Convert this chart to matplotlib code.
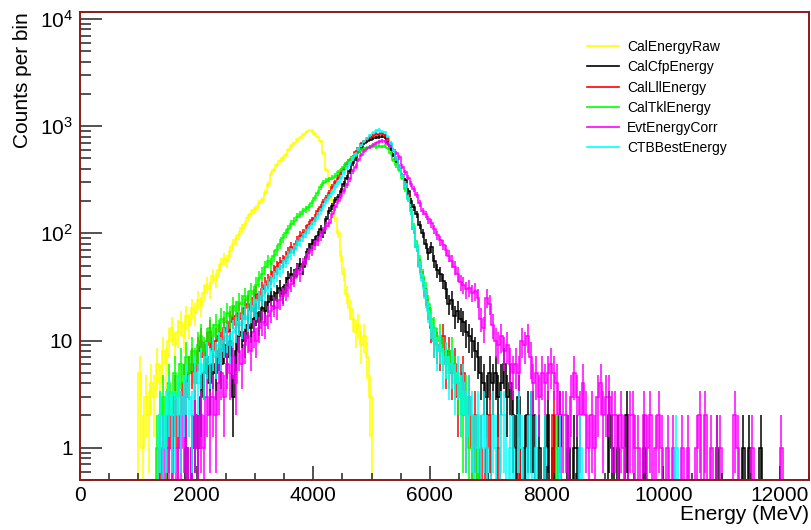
import numpy as np
import matplotlib
matplotlib.use("Agg")
import matplotlib.pyplot as plt
from matplotlib.lines import Line2D
from matplotlib.ticker import FixedLocator, LogLocator, FuncFormatter, NullFormatter

plt.rcParams['font.family'] = ['Liberation Sans', 'DejaVu Sans']
plt.rcParams['mathtext.default'] = 'regular'

# 50 MeV bins from 0 to 12.5 GeV
BIN_WIDTH = 50
E_MAX = 12500

# counts per bin, each list starts at the given energy (MeV)
raw_start = 1000
raw_counts = [
    5, 1, 3, 2, 4, 3, 6, 4, 8, 6,
    10, 13, 9, 12, 15, 11, 17, 14, 20, 18,
    24, 21, 28, 33, 30, 40, 37, 45, 52, 58,
    55, 68, 80, 88, 96, 112, 120, 140, 152, 165,
    172, 190, 205, 240, 290, 360, 390, 430, 470, 500,
    540, 600, 650, 690, 740, 780, 830, 870, 910, 900,
    850, 800, 720, 560, 390, 280, 200, 140, 100, 62,
    42, 27, 20, 16, 12, 14, 9, 11, 7, 3,
]

cfp_start = 1800
cfp_counts = [
    1, 0, 1, 2, 1, 3, 5, 7, 4, 6,
    5, 8, 6, 9, 7, 10, 3, 8, 11, 12,
    10, 14, 13, 16, 18, 15, 20, 19, 23, 26,
    24, 28, 31, 27, 33, 38, 42, 40, 46, 52,
    48, 60, 72, 80, 86, 95, 110, 100, 135, 163,
    180, 205, 218, 250, 290, 330, 380, 450, 500, 570,
    620, 690, 720, 750, 770, 780, 790, 800, 790, 700,
    610, 540, 470, 415, 350, 313, 250, 200, 175, 150,
    120, 100, 80, 65, 74, 55, 45, 42, 36, 30,
    22, 24, 17, 19, 16, 15, 12, 11, 10, 8,
    7, 5, 4, 3, 5, 4, 5, 3, 4, 6,
    3, 4, 2, 1, 3, 0, 1, 2, 2, 2,
    0, 1, 0, 1, 2, 0, 1, 0, 2, 0,
    0, 1, 0, 1, 1, 0, 0, 0, 0, 0,
    0, 0, 0, 0, 0, 2, 1, 0, 1, 0,
    0, 2, 0, 0, 0, 0, 0, 1, 0, 0,
    0, 0, 0, 0, 0, 0, 0, 0, 0, 0,
    0, 0, 0, 0, 0, 0, 0, 0, 0, 0,
    0, 0, 1, 0, 0, 0, 0, 0, 0, 0,
    0, 1, 0, 1, 0, 0, 0, 1, 0, 0,
]

lll_start = 1350
lll_counts = [
    1, 1, 1, 2, 1, 3, 1, 2, 4, 3,
    5, 6, 4, 8, 10, 7, 9, 12, 8, 10,
    11, 9, 13, 12, 15, 17, 14, 18, 16, 20,
    22, 19, 25, 27, 24, 30, 33, 36, 39, 44,
    48, 53, 55, 60, 66, 74, 72, 85, 95, 100,
    108, 120, 132, 140, 160, 175, 195, 215, 240, 270,
    300, 330, 370, 400, 440, 480, 520, 570, 620, 680,
    720, 760, 790, 810, 850, 830, 860, 820, 760, 680,
    600, 500, 420, 350, 290, 220, 165, 110, 75, 50,
    38, 26, 20, 13, 10, 9, 8, 11, 6, 8,
    5, 6, 3, 4, 5, 2, 3, 1, 2, 0,
    1, 0, 1, 2, 0, 0, 1, 0, 0, 0,
    0, 0, 0, 1, 0, 0, 0, 0, 0, 0,
    0, 0, 0, 0, 0, 2, 0, 0, 0, 0,
]

tkl_start = 1300
tkl_counts = [
    1, 2, 3, 1, 4, 2, 5, 3, 6, 4,
    7, 5, 8, 6, 9, 11, 8, 10, 13, 11,
    14, 12, 16, 15, 18, 17, 21, 19, 23, 22,
    26, 24, 29, 27, 33, 38, 42, 48, 55, 52,
    62, 70, 80, 90, 100, 110, 122, 130, 142, 150,
    160, 168, 175, 190, 215, 240, 270, 295, 310, 320,
    330, 345, 370, 390, 420, 450, 480, 510, 540, 570,
    600, 610, 630, 640, 650, 640, 655, 645, 650, 620,
    560, 480, 430, 390, 330, 260, 210, 160, 115, 78,
    55, 40, 30, 22, 16, 13, 10, 11, 8, 7,
    6, 8, 5, 4, 3, 2, 3, 1, 1, 0,
    1, 0, 0, 0, 0, 0, 0, 0, 0, 0,
    0, 0, 0, 0, 0, 0, 0, 0, 0, 0,
    0, 0, 0, 0, 0, 0, 0, 1, 0, 0,
]

corr_start = 1400
corr_counts = [
    1, 0, 1, 1, 0, 1, 1, 2, 1, 0,
    1, 2, 1, 2, 1, 3, 2, 3, 2, 4,
    5, 3, 6, 5, 7, 4, 8, 6, 9, 11,
    8, 12, 10, 13, 15, 14, 17, 19, 21, 20,
    24, 26, 29, 31, 34, 38, 45, 42, 52, 58,
    65, 70, 78, 85, 95, 105, 118, 125, 150, 175,
    200, 225, 250, 280, 320, 380, 420, 480, 540, 590,
    620, 640, 670, 690, 710, 730, 720, 680, 650, 600,
    560, 510, 420, 370, 330, 290, 260, 230, 190, 160,
    150, 135, 124, 110, 96, 86, 78, 70, 62, 55,
    48, 42, 35, 33, 30, 31, 28, 29, 25, 16,
    13, 25, 22, 14, 10, 9, 11, 8, 9, 6,
    5, 6, 5, 10, 9, 11, 7, 4, 5, 3,
    5, 4, 5, 6, 5, 4, 2, 2, 2, 1,
    3, 5, 3, 2, 4, 2, 1, 2, 1, 3,
    4, 2, 3, 3, 2, 2, 1, 2, 1, 0,
    2, 2, 1, 1, 0, 2, 1, 2, 0, 1,
    2, 1, 0, 1, 0, 1, 0, 0, 1, 0,
    1, 0, 0, 1, 2, 0, 2, 0, 1, 0,
    1, 1, 0, 0, 0, 0, 2, 1, 0, 0,
    0, 0, 1, 0, 0, 0, 0, 0, 0, 0,
    0, 0, 1, 0, 0, 0, 0, 0, 0, 0,
]

ctb_start = 1350
ctb_counts = [
    2, 1, 2, 3, 2, 2, 3, 2, 3, 4,
    3, 2, 5, 4, 6, 5, 7, 6, 8, 7,
    9, 8, 10, 11, 9, 12, 13, 15, 14, 17,
    16, 19, 21, 20, 24, 26, 29, 32, 35, 38,
    42, 46, 50, 55, 60, 65, 70, 78, 84, 92,
    100, 110, 120, 130, 145, 160, 180, 200, 220, 245,
    270, 300, 330, 370, 410, 450, 500, 550, 610, 660,
    720, 770, 820, 870, 900, 920, 890, 880, 800, 700,
    600, 500, 420, 350, 290, 215, 160, 110, 75, 48,
    36, 25, 19, 14, 10, 8, 9, 6, 7, 5,
    6, 4, 5, 3, 4, 2, 3, 2, 1, 2,
    1, 2, 1, 0, 2, 1, 0, 2, 2, 0,
    1, 1, 0, 2, 1, 0, 1, 2, 0, 1,
    0, 0, 1, 0, 0, 0, 0, 1, 0, 0,
    0, 0, 0, 0, 1, 0, 0, 0, 0, 0,
    0, 0, 0, 0, 0, 0, 0, 0, 0, 0,
    0, 0, 0, 0, 0, 0, 0, 0, 0, 0,
    0, 0, 0, 0, 0, 0, 0, 1, 0, 0,
]

names = ["CalEnergyRaw", "CalCfpEnergy", "CalLllEnergy",
         "CalTklEnergy", "EvtEnergyCorr", "CTBBestEnergy"]
colors = ["#ffff00", "#000000", "#ff0000", "#00ff00", "#ff00ff", "#00ffff"]
series = [(raw_start, raw_counts), (cfp_start, cfp_counts), (lll_start, lll_counts),
          (tkl_start, tkl_counts), (corr_start, corr_counts), (ctb_start, ctb_counts)]

YMIN, YMAX = 0.5, 1.16e4

edges = np.arange(0, E_MAX + BIN_WIDTH, BIN_WIDTH)
centers = 0.5 * (edges[:-1] + edges[1:])
nbins = len(centers)


def to_hist(start, counts):
    h = np.zeros(nbins)
    i0 = start // BIN_WIDTH
    h[i0:i0 + len(counts)] = counts
    return h


fig = plt.figure(figsize=(8.11, 5.30), dpi=100)
ax = fig.add_axes([80 / 811, 50 / 530, 729 / 811, 468 / 530])

for (start, counts), col in zip(series, colors):
    h = to_hist(start, counts)
    # empty bins sit on the bottom of the frame, like ROOT does on a log scale
    ax.stairs(np.maximum(h, YMIN), edges, baseline=None, color=col, lw=1.1)
    nz = h > 0
    err = np.sqrt(h[nz])
    lo = np.maximum(h[nz] - err, YMIN)
    hi = h[nz] + err
    ax.vlines(centers[nz], lo, hi, color=col, lw=1.1)

ax.set_yscale("log")
ax.set_xlim(0, E_MAX)
ax.set_ylim(YMIN, YMAX)

ax.xaxis.set_major_locator(FixedLocator(np.arange(0, 12001, 2000)))
ax.xaxis.set_minor_locator(FixedLocator(np.arange(0, 12501, 500)))
ax.yaxis.set_major_locator(LogLocator(base=10, numticks=10))
ax.yaxis.set_minor_locator(LogLocator(base=10, subs=np.arange(2, 10), numticks=20))
ax.yaxis.set_minor_formatter(NullFormatter())


def ylab(v, pos):
    n = int(round(np.log10(v)))
    if n == 0:
        return "1"
    if n == 1:
        return "10"
    return r"$10^{%d}$" % n


ax.yaxis.set_major_formatter(FuncFormatter(ylab))

ax.tick_params(axis="both", which="both", direction="in", colors="#222222",
               labelcolor="black", labelsize=15)
ax.tick_params(axis="y", which="major", length=16, width=1.1, pad=5)
ax.tick_params(axis="y", which="minor", length=8, width=1.1)
ax.tick_params(axis="x", which="major", length=10, width=1.1, pad=4)
ax.tick_params(axis="x", which="minor", length=5, width=1.1)

for sp in ax.spines.values():
    sp.set_color("#8b1a1a")
    sp.set_linewidth(1.4)

ax.set_xlabel("Energy (MeV)", loc="right", fontsize=15, labelpad=0)
ax.set_ylabel("Counts per bin", loc="top", fontsize=15, labelpad=6)

handles = [Line2D([0], [0], color=c, lw=1.2) for c in colors]
ax.legend(handles, names, loc="upper left", bbox_to_anchor=(0.695, 0.94),
          frameon=False, fontsize=10, handlelength=2.3, handletextpad=0.6,
          labelspacing=0.45, borderpad=0, borderaxespad=0)

fig.savefig("out.png", dpi=100)
